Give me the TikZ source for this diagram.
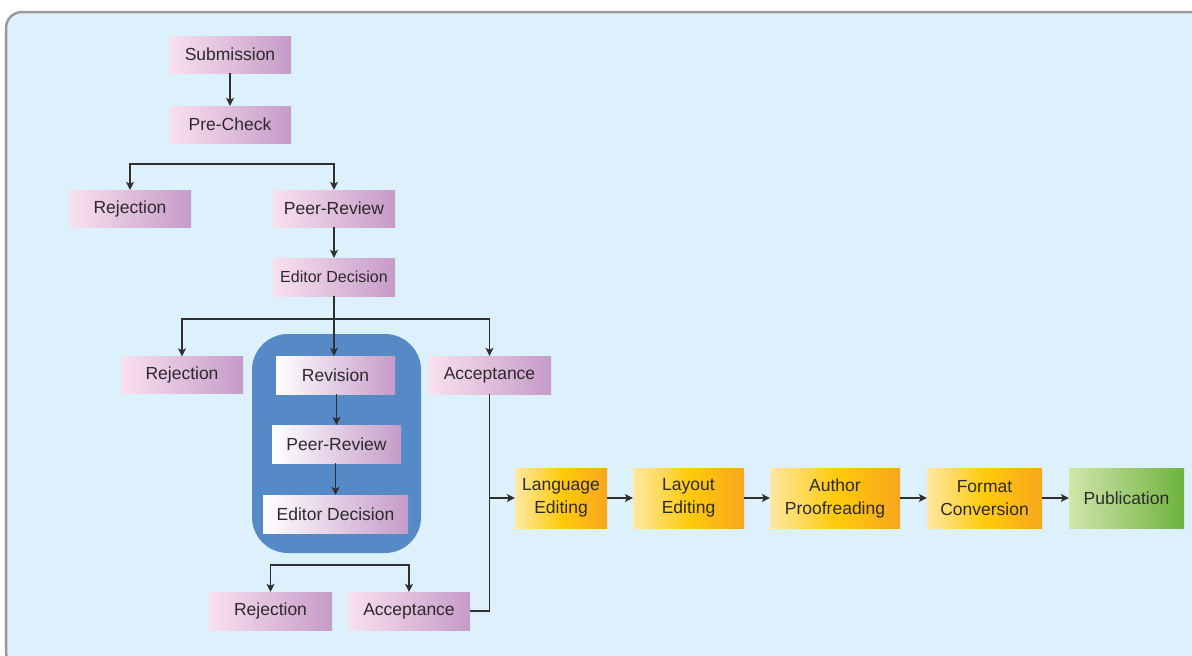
\documentclass[tikz,border=0pt]{standalone}
\usepackage{fontspec}
\setmainfont{Liberation Sans}
\usetikzlibrary{arrows.meta}
\definecolor{bgpanel}{HTML}{DCF1FC}
\definecolor{panelborder}{HTML}{9A9A9A}
\definecolor{pinkL}{HTML}{F9E1EE}
\definecolor{pinkR}{HTML}{C59BC8}
\definecolor{orL}{HTML}{FFE8A3}
\definecolor{orM}{HTML}{FFCB0B}
\definecolor{orR}{HTML}{F8A61C}
\definecolor{grL}{HTML}{D1E6AA}
\definecolor{grR}{HTML}{6DB33F}
\definecolor{bluebox}{HTML}{568AC6}
\definecolor{txt}{HTML}{2D2A2E}
\definecolor{linec}{HTML}{2F2F2F}
\tikzset{
  box/.style={inner sep=0pt, text=txt, align=center,
    font=\fontsize{17.5}{23}\selectfont},
  pinkbox/.style={box, left color=pinkL, right color=pinkR},
  whitebox/.style={box, left color=white, right color=pinkR},
  orangebox/.style={box, left color=orL, right color=orR, middle color=orM},
  greenbox/.style={box, left color=grL, right color=grR},
  arr/.style={draw=linec, line width=1.1pt, -{Stealth[length=8pt,width=8pt,inset=2pt]}},
  ln/.style={draw=linec, line width=1.1pt},
}
\begin{document}
\begin{tikzpicture}[x=1pt,y=-1pt]
\useasboundingbox (0,0) rectangle (1192,656);
\begin{scope}
\clip (0,0) rectangle (1192,656);
\draw[fill=bgpanel, draw=panelborder, line width=2.5pt, rounded corners=16pt] (6,12) rectangle (1210,668);
\end{scope}
\node[fill=bluebox, rounded corners=36pt, minimum width=169pt, minimum height=219pt, inner sep=0pt] (blue) at (336.5,443.5) {};
% left column
\node[pinkbox, minimum width=122pt, minimum height=37pt] (sub) at (230,54.5) {Submission};
\node[pinkbox, minimum width=122pt, minimum height=37pt] (pre) at (230,124.5) {Pre-Check};
\node[pinkbox, minimum width=122pt, minimum height=37pt] (rej1) at (130,208.5) {Rejection};
\node[pinkbox, minimum width=122pt, minimum height=37pt] (pr1) at (334,208.5) {Peer-Review};
\node[pinkbox, minimum width=122pt, minimum height=38pt, font=\fontsize{16}{20}\selectfont] (ed1) at (334,277) {Editor Decision};
\node[pinkbox, minimum width=122pt, minimum height=37pt] (rej2) at (182,375) {Rejection};
\node[whitebox, minimum width=119pt, minimum height=38pt] (rev) at (335.5,375) {Revision};
\node[pinkbox, minimum width=123pt, minimum height=38pt] (acc1) at (489.5,375) {Acceptance};
\node[whitebox, minimum width=129pt, minimum height=38pt] (pr2) at (336.5,444) {Peer-Review};
\node[whitebox, minimum width=145pt, minimum height=38pt] (ed2) at (335.5,514) {Editor Decision};
\node[pinkbox, minimum width=123pt, minimum height=38pt] (rej3) at (270.5,611) {Rejection};
\node[pinkbox, minimum width=122pt, minimum height=38pt] (acc2) at (409,611) {Acceptance};
% production chain
\node[orangebox, minimum width=92pt, minimum height=60pt] (lang) at (561,498) {Language\\Editing};
\node[orangebox, minimum width=111pt, minimum height=60pt] (lay) at (688.5,498) {Layout\\Editing};
\node[orangebox, minimum width=130pt, minimum height=60pt] (auth) at (835,498) {Author\\Proofreading};
\node[orangebox, minimum width=115pt, minimum height=60pt] (fmt) at (984.5,498) {Format\\Conversion};
\node[greenbox, minimum width=115pt, minimum height=60pt] (pub) at (1126.5,498) {Publication};
% connectors
\draw[arr] (sub) -- (pre);
\coordinate (f1) at (232,164);
\draw[arr] (f1) -| (rej1.north);
\draw[arr] (f1) -| (pr1.north);
\draw[arr] (pr1) -- (ed1);
\draw[arr] (ed1.south) -- (ed1.south |- rev.north);
\coordinate (f2) at (334,319);
\draw[arr] (f2) -| (rej2.north);
\draw[arr] (f2) -| (acc1.north);
\draw[arr] (rev.south -| pr2.north) -- (pr2.north);
\draw[arr] (pr2.south -| ed2.north) -- (ed2.north);
\coordinate (f3) at (339,565);
\draw[arr] (f3) -| (rej3.north);
\draw[arr] (f3) -| (acc2.north);
\draw[ln] (acc1.south) -- (acc1.south |- acc2.east) -- (acc2.east);
\draw[arr] (acc1.south |- lang.west) -- (lang.west);
\draw[arr] (lang) -- (lay);
\draw[arr] (lay) -- (auth);
\draw[arr] (auth) -- (fmt);
\draw[arr] (fmt) -- (pub);
\end{tikzpicture}
\end{document}
